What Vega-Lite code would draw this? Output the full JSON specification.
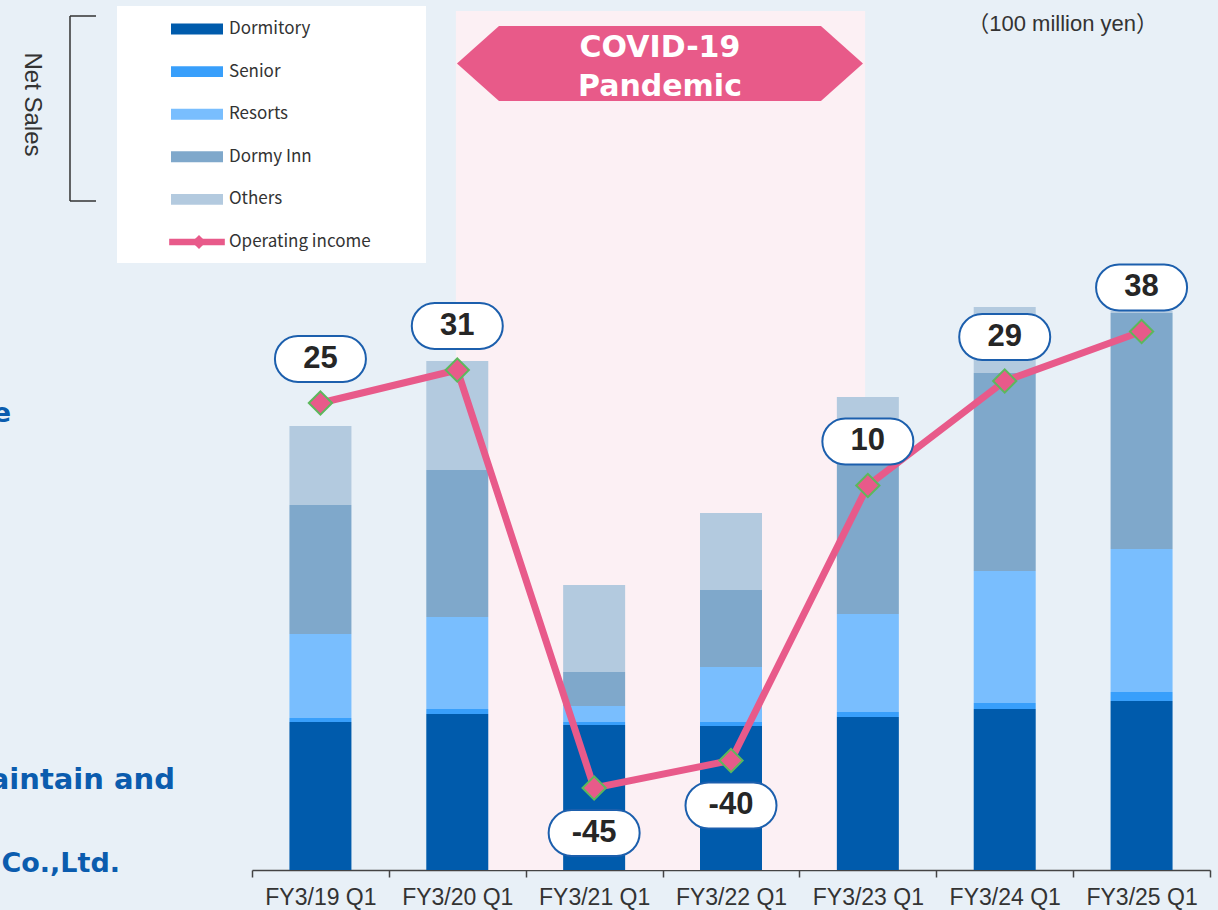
{
  "$schema": "https://vega.github.io/schema/vega-lite/v6.json",
  "width": 958,
  "height": 859,
  "autosize": "none",
  "padding": {"left": 252, "top": 11, "right": 8, "bottom": 40},
  "background": "#e8f0f7",
  "config": {"view": {"stroke": null}, "font": "Liberation Sans"},
  "datasets": {
    "sales": [
      {"quarter": "FY3/19 Q1", "segment": "Dormitory", "value": 118.4},
      {"quarter": "FY3/19 Q1", "segment": "Senior", "value": 3.2},
      {"quarter": "FY3/19 Q1", "segment": "Resorts", "value": 67.2},
      {"quarter": "FY3/19 Q1", "segment": "Dormy Inn", "value": 103.2},
      {"quarter": "FY3/19 Q1", "segment": "Others", "value": 63.2},
      {"quarter": "FY3/20 Q1", "segment": "Dormitory", "value": 124.8},
      {"quarter": "FY3/20 Q1", "segment": "Senior", "value": 4.0},
      {"quarter": "FY3/20 Q1", "segment": "Resorts", "value": 73.6},
      {"quarter": "FY3/20 Q1", "segment": "Dormy Inn", "value": 117.6},
      {"quarter": "FY3/20 Q1", "segment": "Others", "value": 87.2},
      {"quarter": "FY3/21 Q1", "segment": "Dormitory", "value": 116.0},
      {"quarter": "FY3/21 Q1", "segment": "Senior", "value": 2.4},
      {"quarter": "FY3/21 Q1", "segment": "Resorts", "value": 12.8},
      {"quarter": "FY3/21 Q1", "segment": "Dormy Inn", "value": 27.2},
      {"quarter": "FY3/21 Q1", "segment": "Others", "value": 69.6},
      {"quarter": "FY3/22 Q1", "segment": "Dormitory", "value": 115.2},
      {"quarter": "FY3/22 Q1", "segment": "Senior", "value": 3.2},
      {"quarter": "FY3/22 Q1", "segment": "Resorts", "value": 44.0},
      {"quarter": "FY3/22 Q1", "segment": "Dormy Inn", "value": 61.6},
      {"quarter": "FY3/22 Q1", "segment": "Others", "value": 61.6},
      {"quarter": "FY3/23 Q1", "segment": "Dormitory", "value": 122.4},
      {"quarter": "FY3/23 Q1", "segment": "Senior", "value": 4.0},
      {"quarter": "FY3/23 Q1", "segment": "Resorts", "value": 78.4},
      {"quarter": "FY3/23 Q1", "segment": "Dormy Inn", "value": 145.6},
      {"quarter": "FY3/23 Q1", "segment": "Others", "value": 28.0},
      {"quarter": "FY3/24 Q1", "segment": "Dormitory", "value": 128.8},
      {"quarter": "FY3/24 Q1", "segment": "Senior", "value": 4.8},
      {"quarter": "FY3/24 Q1", "segment": "Resorts", "value": 105.6},
      {"quarter": "FY3/24 Q1", "segment": "Dormy Inn", "value": 158.4},
      {"quarter": "FY3/24 Q1", "segment": "Others", "value": 52.8},
      {"quarter": "FY3/25 Q1", "segment": "Dormitory", "value": 135.2},
      {"quarter": "FY3/25 Q1", "segment": "Senior", "value": 7.2},
      {"quarter": "FY3/25 Q1", "segment": "Resorts", "value": 114.4},
      {"quarter": "FY3/25 Q1", "segment": "Dormy Inn", "value": 188.8},
      {"quarter": "FY3/25 Q1", "segment": "Others", "value": 1.6}
    ],
    "income": [
      {"quarter": "FY3/19 Q1", "segment": "Operating income", "income": 25, "label": "25"},
      {"quarter": "FY3/20 Q1", "segment": "Operating income", "income": 31, "label": "31"},
      {"quarter": "FY3/21 Q1", "segment": "Operating income", "income": -45, "label": "-45"},
      {"quarter": "FY3/22 Q1", "segment": "Operating income", "income": -40, "label": "-40"},
      {"quarter": "FY3/23 Q1", "segment": "Operating income", "income": 10, "label": "10"},
      {"quarter": "FY3/24 Q1", "segment": "Operating income", "income": 29, "label": "29"},
      {"quarter": "FY3/25 Q1", "segment": "Operating income", "income": 38, "label": "38"}
    ]
  },
  "layer": [
    {
      "layer": [
        {
          "data": {"values": [{"x": 1.49, "x2": 4.48, "y": 0, "y2": 687.2}]},
          "mark": {"type": "rect", "color": "#fcf0f4"},
          "encoding": {
            "x": {"field": "x", "type": "quantitative", "scale": {"domain": [0, 7], "nice": false, "zero": false}, "axis": null},
            "x2": {"field": "x2"},
            "y": {"field": "y", "type": "quantitative", "scale": {"domain": [0, 687.2], "nice": false, "zero": false}, "axis": null},
            "y2": {"field": "y2"}
          }
        },
        {
          "data": {"values": [{"x": -0.9864, "x2": 1.2714, "y": 485.6, "y2": 691.2}]},
          "mark": {"type": "rect", "color": "#ffffff"},
          "encoding": {
            "x": {"field": "x", "type": "quantitative"},
            "x2": {"field": "x2"},
            "y": {"field": "y", "type": "quantitative"},
            "y2": {"field": "y2"}
          }
        },
        {
          "data": {"values": [
            {"x": -1.3299, "x2": -1.3299, "y": 683.2, "y2": 535.2},
            {"x": -1.3299, "x2": -1.1399, "y": 683.2, "y2": 683.2},
            {"x": -1.3299, "x2": -1.1399, "y": 535.2, "y2": 535.2}
          ]},
          "mark": {"type": "rule", "color": "#333333", "strokeWidth": 1.5},
          "encoding": {
            "x": {"field": "x", "type": "quantitative"},
            "x2": {"field": "x2"},
            "y": {"field": "y", "type": "quantitative"},
            "y2": {"field": "y2"}
          }
        },
        {
          "data": {"values": [{"x": -1.6075, "y": 612.4, "text": "Net Sales"}]},
          "mark": {"type": "text", "angle": 90, "align": "center", "baseline": "middle", "font": "Liberation Sans", "fontSize": 24, "color": "#333333"},
          "encoding": {
            "x": {"field": "x", "type": "quantitative"},
            "y": {"field": "y", "type": "quantitative"},
            "text": {"field": "text"}
          }
        },
        {
          "data": {"values": [{"x": 6.6200, "y": 671.2, "text": "（100 million yen）"}]},
          "mark": {"type": "text", "align": "right", "baseline": "alphabetic", "font": "Liberation Sans, Noto Sans CJK JP", "fontSize": 22, "color": "#333333"},
          "encoding": {
            "x": {"field": "x", "type": "quantitative"},
            "y": {"field": "y", "type": "quantitative"},
            "text": {"field": "text"}
          }
        },
        {
          "data": {"values": [
            {"x": -1.761, "y": 358.4, "text": "e"},
            {"x": -0.9645, "y": -1.6, "text": "Co.,Ltd."}
          ]},
          "mark": {"type": "text", "align": "right", "baseline": "alphabetic", "font": "DejaVu Sans", "fontWeight": "bold", "fontSize": 27, "color": "#0b5cae"},
          "encoding": {
            "x": {"field": "x", "type": "quantitative"},
            "y": {"field": "y", "type": "quantitative"},
            "text": {"field": "text"}
          }
        },
        {
          "data": {"values": [
            {"x": -0.5626, "y": 64.8, "text": "maintain and"}
          ]},
          "mark": {"type": "text", "align": "right", "baseline": "alphabetic", "font": "DejaVu Sans", "fontWeight": "bold", "fontSize": 29, "color": "#0b5cae"},
          "encoding": {
            "x": {"field": "x", "type": "quantitative"},
            "y": {"field": "y", "type": "quantitative"},
            "text": {"field": "text"}
          }
        },
        {
          "data": {"values": [{"x": 2.981, "y": 645.2}]},
          "mark": {"type": "point", "filled": true, "opacity": 1, "color": "#e85a89", "strokeWidth": 0, "size": 164836, "shape": "M-1,0L-0.793,-0.1847L0.793,-0.1847L1,0L0.793,0.1847L-0.793,0.1847Z"},
          "encoding": {
            "x": {"field": "x", "type": "quantitative"},
            "y": {"field": "y", "type": "quantitative"}
          }
        },
        {
          "data": {"values": [
            {"x": 2.981, "y": 650.4, "text": "COVID-19"},
            {"x": 2.981, "y": 619.2, "text": "Pandemic"}
          ]},
          "mark": {"type": "text", "align": "center", "baseline": "alphabetic", "font": "DejaVu Sans", "fontWeight": "bold", "fontSize": 30, "color": "#ffffff"},
          "encoding": {
            "x": {"field": "x", "type": "quantitative"},
            "y": {"field": "y", "type": "quantitative"},
            "text": {"field": "text"}
          }
        }
      ]
    },
    {
      "data": {"name": "sales"},
      "transform": [
        {"calculate": "indexof(['Dormitory','Senior','Resorts','Dormy Inn','Others'], datum.segment)", "as": "rk"}
      ],
      "mark": {"type": "bar", "width": {"band": 0.453}},
      "encoding": {
        "x": {
          "field": "quarter", "type": "nominal", "sort": null,
          "scale": {"type": "band", "paddingInner": 0, "paddingOuter": 0},
          "axis": {
            "orient": "bottom",
            "title": null, "labelAngle": 0, "grid": false,
            "domainColor": "#444444", "domainWidth": 1.5,
            "tickColor": "#444444", "tickWidth": 1.5, "tickSize": 7, "tickBand": "extent",
            "labelFont": "Liberation Sans", "labelFontSize": 23, "labelColor": "#333333", "labelPadding": 9
          }
        },
        "y": {
          "field": "value", "type": "quantitative", "stack": "zero",
          "scale": {"domain": [0, 687.2], "nice": false, "zero": true}, "axis": null
        },
        "color": {
          "field": "segment", "type": "nominal",
          "scale": {
            "domain": ["Dormitory", "Senior", "Resorts", "Dormy Inn", "Others", "Operating income"],
            "range": ["#005bac", "#389ffb", "#79befe", "#7fa8cb", "#b3cadf", "#e85a8a"]
          },
          "legend": {
            "orient": "none", "legendX": -81, "legendY": -8, "title": null,
            "symbolType": "M-1,-0.21H1V0.21H-1Z", "symbolSize": 2704, "symbolStrokeWidth": 0,
            "labelFont": "Noto Sans CJK JP", "labelFontSize": 17, "labelColor": "#333333",
            "labelOffset": 6, "rowPadding": 8.6,
            "encode": {
              "symbols": {
                "update": {
                  "shape": {"signal": "datum.value === 'Operating income' ? 'M-1.07,-0.125H1.07V0.125H-1.07Z' : 'M-1,-0.21H1V0.21H-1Z'"},
                  "fill": {"scale": "color", "field": "value"},
                  "strokeWidth": {"value": 0}
                }
              }
            }
          }
        },
        "order": {"field": "rk", "type": "quantitative", "sort": "ascending"}
      }
    },
    {
      "data": {"name": "income"},
      "encoding": {
        "x": {
          "field": "quarter", "type": "nominal", "sort": null,
          "scale": {"type": "band", "paddingInner": 0, "paddingOuter": 0}, "axis": null
        },
        "y": {
          "field": "income", "type": "quantitative",
          "scale": {"domain": [-59.91, 96.27], "nice": false, "zero": false}, "axis": null
        }
      },
      "layer": [
        {
          "mark": {"type": "line", "strokeWidth": 7},
          "encoding": {"color": {"field": "segment", "type": "nominal"}}
        },
        {
          "mark": {"type": "point", "filled": true, "opacity": 1, "fill": "#e85a8a", "stroke": "#5cb85c", "strokeWidth": 2, "size": 540},
          "encoding": {
            "shape": {
              "field": "segment", "type": "nominal",
              "scale": {"range": ["diamond"]},
              "legend": {
                "orient": "none", "legendX": -61, "legendY": 223, "title": null,
                "labelExpr": "''", "labelFontSize": 1, "labelOffset": 0,
                "symbolSize": 200, "symbolFillColor": "#e85a8a", "symbolStrokeColor": "#5cb85c", "symbolStrokeWidth": 1.5
              }
            }
          }
        },
        {
          "transform": [{"filter": "datum.income >= 0"}],
          "mark": {"type": "point", "filled": true, "opacity": 1, "fill": "#ffffff", "stroke": "#1c5fad", "strokeWidth": 2, "size": 8281, "yOffset": -44,
            "shape": "M-0.4945,-0.5055H0.4945A0.5055,0.5055 0 0 1 0.4945,0.5055H-0.4945A0.5055,0.5055 0 0 1 -0.4945,-0.5055Z"}
        },
        {
          "transform": [{"filter": "datum.income < 0"}],
          "mark": {"type": "point", "filled": true, "opacity": 1, "fill": "#ffffff", "stroke": "#1c5fad", "strokeWidth": 2, "size": 8281, "yOffset": 45,
            "shape": "M-0.4945,-0.5055H0.4945A0.5055,0.5055 0 0 1 0.4945,0.5055H-0.4945A0.5055,0.5055 0 0 1 -0.4945,-0.5055Z"}
        },
        {
          "transform": [{"filter": "datum.income >= 0"}],
          "mark": {"type": "text", "font": "Liberation Sans", "fontWeight": "bold", "fontSize": 31, "color": "#262626", "baseline": "middle", "yOffset": -44},
          "encoding": {"text": {"field": "label"}}
        },
        {
          "transform": [{"filter": "datum.income < 0"}],
          "mark": {"type": "text", "font": "Liberation Sans", "fontWeight": "bold", "fontSize": 31, "color": "#262626", "baseline": "middle", "yOffset": 45},
          "encoding": {"text": {"field": "label"}}
        }
      ]
    }
  ],
  "resolve": {"scale": {"x": "independent", "y": "independent"}}
}
